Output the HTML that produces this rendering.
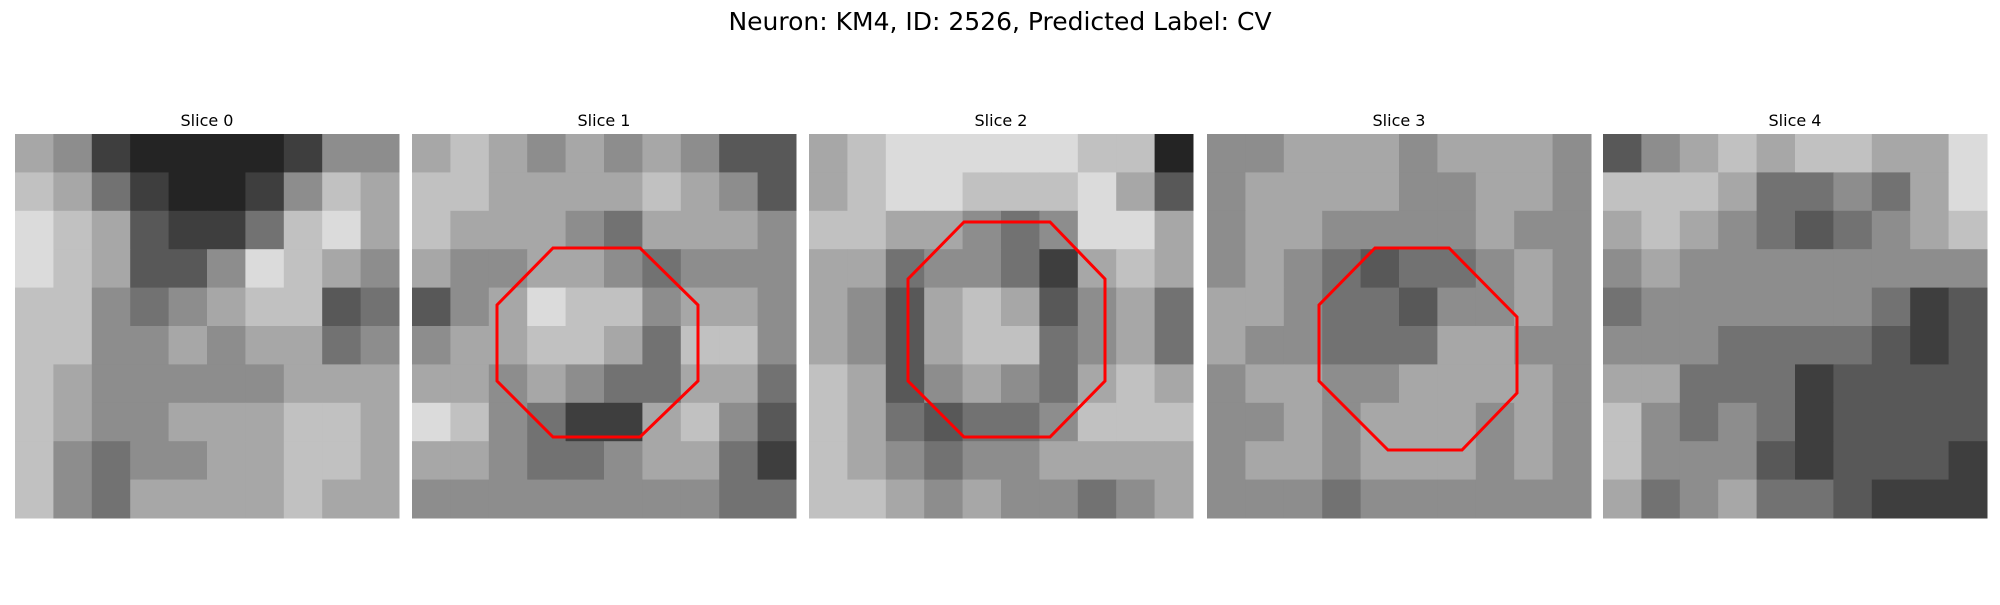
<!DOCTYPE html>
<html><head><meta charset="utf-8"><style>
body{margin:0;background:#fff;width:2000px;height:600px;overflow:hidden;font-family:"Liberation Sans","DejaVu Sans",sans-serif}
</style></head><body>
<svg width="2000" height="600">
<text x="1000" y="30" text-anchor="middle" font-size="25" font-family="DejaVu Sans, Liberation Sans, sans-serif">Neuron: KM4, ID: 2526, Predicted Label: CV</text>
<g id="panels"></g>
</svg>
<script>
const sliceTitles=["Slice 0","Slice 1","Slice 2","Slice 3","Slice 4"];
const slice0=[[6,5,2,1,1,1,1,2,5,5],[7,6,4,2,1,1,2,5,7,6],[8,7,6,3,2,2,4,7,8,6],[8,7,6,3,3,5,8,7,6,5],[7,7,5,4,5,6,7,7,3,4],[7,7,5,5,6,5,6,6,4,5],[7,6,5,5,5,5,5,6,6,6],[7,6,5,5,6,6,6,7,7,6],[7,5,4,5,5,6,6,7,7,6],[7,5,4,6,6,6,6,7,6,6]];
const slice1=[[6,7,6,5,6,5,6,5,3,3],[7,7,6,6,6,6,7,6,5,3],[7,6,6,6,5,4,6,6,6,5],[6,5,5,6,6,5,4,5,5,5],[3,5,6,8,7,7,5,6,6,5],[5,6,6,7,7,6,4,7,7,5],[6,6,5,6,5,4,4,6,6,4],[8,7,5,4,2,2,6,7,5,3],[6,6,5,4,4,5,6,6,4,2],[5,5,5,5,5,5,5,5,4,4]];
const slice2=[[6,7,8,8,8,8,8,7,7,1],[6,7,8,8,7,7,7,8,6,3],[7,7,6,6,5,4,5,8,8,6],[6,6,4,5,5,4,2,6,7,6],[6,5,3,6,7,6,3,5,6,4],[6,5,3,6,7,7,4,5,6,4],[7,6,3,5,6,5,4,6,7,6],[7,6,4,3,4,4,5,7,7,7],[7,6,5,4,5,5,6,6,6,6],[7,7,6,5,6,5,5,4,5,6]];
const slice3=[[5,5,6,6,6,5,6,6,6,5],[5,6,6,6,6,5,5,6,6,5],[5,6,6,5,5,5,5,6,5,5],[5,6,5,4,3,4,4,5,6,5],[6,6,5,4,4,3,5,5,6,5],[6,5,5,4,4,4,6,6,5,5],[5,6,6,5,5,6,6,6,6,5],[5,5,6,5,6,6,6,5,6,5],[5,6,6,5,6,6,6,5,6,5],[5,5,5,4,5,5,5,5,5,5]];
const slice4=[[3,5,6,7,6,7,7,6,6,8],[7,7,7,6,4,4,5,4,6,8],[6,7,6,5,4,3,4,5,6,7],[5,6,5,5,5,5,5,5,5,5],[4,5,5,5,5,5,5,4,2,3],[5,5,5,4,4,4,4,3,2,3],[6,6,4,4,4,2,3,3,3,3],[7,5,4,5,4,2,3,3,3,3],[7,5,5,5,3,2,3,3,3,2],[6,4,5,6,4,4,3,2,2,2]];
const slices=[slice0,slice1,slice2,slice3,slice4];
const oct1=[[141,114],[228,114],[286,171],[286,247],[228,303],[141,303],[85,247],[85,171]];
const oct2=[[155,88],[241,88],[296,145],[296,247],[241,303],[155,303],[99,247],[99,145]];
const oct3=[[168,114],[242,114],[310,183],[310,259],[255,316],[181,316],[112,247],[112,171]];
const octs=[null,oct1,oct2,oct3,null];
const panelX=[15,412,809,1207,1603],panelY=134,panelS=384;
const NS="http://www.w3.org/2000/svg";
const g=document.getElementById('panels');
slices.forEach((data,k)=>{
  const pg=document.createElementNS(NS,'g');
  
  
  pg.setAttribute('transform',`translate(${panelX[k]},${panelY})`);
  const n=data.length,c=panelS/n;
  data.forEach((row,r)=>row.forEach((v,ci)=>{
    const rc=document.createElementNS(NS,'rect');
    
    
    rc.setAttribute('x',ci*c);rc.setAttribute('y',r*c);
    rc.setAttribute('width',c+0.5);rc.setAttribute('height',c+0.5);
    const l=Math.round(v/9*235+10);
    rc.setAttribute('fill',`rgb(${l},${l},${l})`);
    pg.appendChild(rc);
  }));
  if(octs[k]){
    const p=document.createElementNS(NS,'polygon');
    
    
    p.setAttribute('points',octs[k].map(q=>q.join(',')).join(' '));
    p.setAttribute('fill','none');p.setAttribute('stroke','#ff0000');p.setAttribute('stroke-width','3');
    pg.appendChild(p);
  }
  const t=document.createElementNS(NS,'text');
  
  
  t.setAttribute('x',panelS/2);t.setAttribute('y',-8);
  t.setAttribute('text-anchor','middle');t.setAttribute('font-size','16');
  t.setAttribute('font-family','DejaVu Sans, Liberation Sans, sans-serif');
  t.textContent=sliceTitles[k];
  pg.appendChild(t);
  g.appendChild(pg);
});
</script>
</body></html>
